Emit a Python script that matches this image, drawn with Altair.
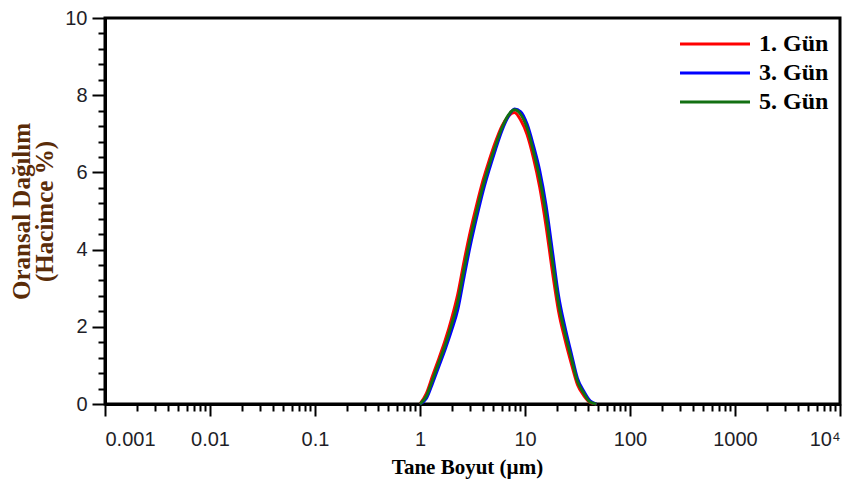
import altair as alt
import pandas as pd

# Particle size bins (µm)
size_um = [1.000, 1.148, 1.318, 1.514, 1.738, 1.995, 2.291, 2.630, 3.020, 3.467,
           3.981, 4.571, 5.248, 6.026, 6.918, 7.943, 9.120, 10.47, 12.02, 13.80,
           15.85, 18.20, 20.89, 23.99, 27.54, 31.62, 36.31, 41.69, 47.86]

day1 = [0.0, 0.27, 0.73, 1.18, 1.65, 2.20, 2.85, 3.70, 4.48, 5.16,
        5.79, 6.32, 6.80, 7.20, 7.45, 7.55, 7.35, 6.98, 6.38, 5.62,
        4.62, 3.45, 2.40, 1.68, 1.06, 0.50, 0.22, 0.04, 0.0]
day3 = [0.0, 0.14, 0.54, 0.98, 1.42, 1.90, 2.45, 3.30, 4.12, 4.84,
        5.51, 6.08, 6.60, 7.08, 7.44, 7.64, 7.57, 7.25, 6.70, 6.05,
        5.15, 3.98, 2.80, 2.00, 1.32, 0.66, 0.33, 0.08, 0.0]
day5 = [0.0, 0.20, 0.63, 1.08, 1.53, 2.05, 2.65, 3.50, 4.30, 5.00,
        5.65, 6.20, 6.70, 7.15, 7.48, 7.62, 7.50, 7.15, 6.55, 5.85,
        4.90, 3.72, 2.60, 1.84, 1.20, 0.58, 0.28, 0.05, 0.0]

series_names = ["1. Gün", "3. Gün", "5. Gün"]
series_colors = ["#ff0000", "#0000ff", "#137013"]

x_tick_values = [k * 10.0 ** e for e in range(-3, 4) for k in range(1, 10)] + [10000.0]
y_tick_values = [round(i * 0.4, 1) for i in range(26)]

rows = []
for name, vals in zip(series_names, [day1, day3, day5]):
    for o, (s, v) in enumerate(zip(size_um, vals)):
        rows.append({"size": s, "value": v, "series": name, "ord": o})
df = pd.DataFrame(rows)

is_pow10 = "abs(log(datum.value)/LN10 - round(log(datum.value)/LN10)) < 1e-6"
is_even = "abs(datum.value - 2*round(datum.value/2)) < 1e-6"

chart = alt.Chart(df).mark_line(strokeWidth=3, interpolate="monotone").encode(
    x=alt.X("size:Q",
            scale=alt.Scale(type="log", domain=[0.001, 10000], nice=False),
            axis=alt.Axis(
                title="Tane Boyut (µm)",
                values=x_tick_values,
                labelExpr=f"({is_pow10}) ? (datum.value >= 10000 ? '10⁴' : toString(datum.value)) : ''",
                tickSize={"condition": {"test": is_pow10, "value": 12}, "value": 7},
                labelPadding=13,
                titlePadding=7,
                titleFontSize=21,
                titleX=362,
            )),
    y=alt.Y("value:Q",
            scale=alt.Scale(domain=[0, 10], nice=False),
            axis=alt.Axis(
                title=["Oransal Dağılım", "(Hacimce %)"],
                values=y_tick_values,
                labelExpr=f"({is_even}) ? toString(datum.value) : ''",
                tickSize={"condition": {"test": is_even, "value": 13}, "value": 7},
                labelPadding=5,
                titlePadding=7,
                titleFontSize=25,
                titleLineHeight=23,
                titleColor="#5a2c08",
            )),
    color=alt.Color("series:N",
                    scale=alt.Scale(domain=series_names, range=series_colors),
                    legend=alt.Legend(
                        title=None,
                        orient="none",
                        legendX=598,
                        legendY=14,
                        padding=0,
                        symbolType="M-5,0H5",
                        symbolSize=196,
                        symbolStrokeWidth=3,
                        labelOffset=32,
                        rowPadding=5,
                        labelFont="Liberation Serif",
                        labelFontWeight="bold",
                        labelFontSize=24,
                        labelColor="#000000",
                    )),
    order="ord:Q",
).properties(
    width=735,
    height=386,
    autosize=alt.AutoSizeParams(type="none"),
    padding={"left": 97, "top": 10, "right": 17, "bottom": 84},
).configure_view(
    stroke="#000000", strokeWidth=3
).configure_axis(
    grid=False,
    domainColor="#000000",
    domainWidth=3,
    tickColor="#000000",
    tickWidth=2,
    labelFont="Liberation Sans",
    labelFontSize=20,
    labelColor="#1e1e28",
    titleFont="Liberation Serif",
    titleFontWeight="bold",
    titleFontSize=20,
    titleColor="#000000",
)

chart.save("out.html", embed_options={"renderer": "svg", "actions": False})
